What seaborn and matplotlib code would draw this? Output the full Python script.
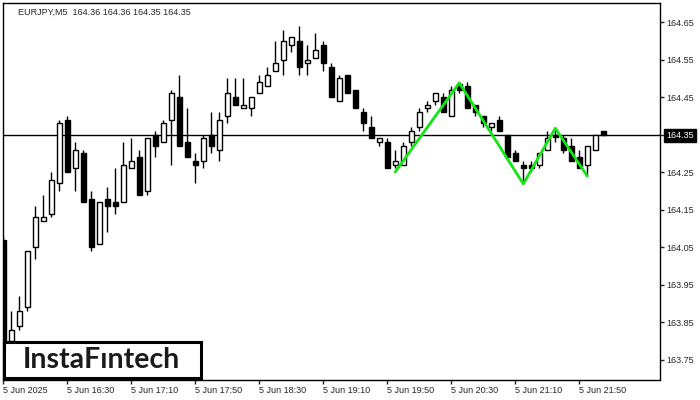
""" EURJPY M5 candles with the double top pattern drawn in green
"""

import matplotlib
matplotlib.use("Agg")
import matplotlib.pyplot as plt
from matplotlib.patches import Rectangle
import seaborn as sns
import pandas as pd

# candle prices, one entry per 5 minute bar from 5 Jun 15:50
opens = [164.07, 163.80, 163.84, 163.89, 164.05, 164.12, 164.14, 164.22, 164.39, 164.26,
         164.30, 164.18, 164.06, 164.18, 164.17, 164.17, 164.26, 164.29, 164.20, 164.35,
         164.33, 164.39, 164.45, 164.33, 164.28, 164.28, 164.35, 164.31, 164.40, 164.45,
         164.42, 164.42, 164.46, 164.48, 164.52, 164.55, 164.59, 164.60, 164.54, 164.555,
         164.59, 164.53, 164.44, 164.51, 164.47, 164.41, 164.37, 164.33, 164.33, 164.27,
         164.27, 164.33, 164.37, 164.42, 164.44, 164.45, 164.40, 164.485, 164.48, 164.43,
         164.40, 164.37, 164.39, 164.35, 164.30, 164.27, 164.27, 164.27, 164.31, 164.35,
         164.34, 164.32, 164.29, 164.27, 164.31, 164.36]
highs = [164.08, 163.88, 163.92, 164.04, 164.16, 164.19, 164.25, 164.39, 164.40, 164.33,
         164.31, 164.20, 164.17, 164.21, 164.26, 164.33, 164.34, 164.31, 164.34, 164.36,
         164.39, 164.47, 164.51, 164.42, 164.30, 164.35, 164.41, 164.41, 164.50, 164.50,
         164.50, 164.45, 164.51, 164.53, 164.60, 164.63, 164.61, 164.64, 164.59, 164.62,
         164.60, 164.54, 164.51, 164.51, 164.47, 164.42, 164.40, 164.34, 164.34, 164.31,
         164.33, 164.37, 164.42, 164.44, 164.46, 164.46, 164.48, 164.49, 164.49, 164.43,
         164.40, 164.38, 164.40, 164.35, 164.31, 164.28, 164.28, 164.30, 164.36, 164.37,
         164.35, 164.34, 164.31, 164.32, 164.35, 164.36]
lows = [163.78, 163.79, 163.83, 163.88, 164.02, 164.12, 164.13, 164.20, 164.25, 164.20,
        164.17, 164.04, 164.06, 164.09, 164.14, 164.17, 164.26, 164.19, 164.19, 164.29,
        164.33, 164.27, 164.32, 164.29, 164.22, 164.26, 164.30, 164.28, 164.38, 164.43,
        164.42, 164.40, 164.46, 164.48, 164.52, 164.51, 164.57, 164.51, 164.51, 164.555,
        164.52, 164.45, 164.44, 164.46, 164.42, 164.36, 164.34, 164.32, 164.26, 164.26,
        164.27, 164.32, 164.36, 164.41, 164.43, 164.41, 164.40, 164.46, 164.42, 164.40,
        164.37, 164.36, 164.36, 164.29, 164.28, 164.22, 164.25, 164.26, 164.31, 164.33,
        164.30, 164.28, 164.26, 164.24, 164.31, 164.35]
closes = [163.80, 163.83, 163.88, 164.04, 164.13, 164.13, 164.23, 164.38, 164.25, 164.31,
          164.17, 164.05, 164.17, 164.16, 164.16, 164.27, 164.28, 164.19, 164.34, 164.32,
          164.38, 164.46, 164.32, 164.29, 164.27, 164.34, 164.32, 164.39, 164.46, 164.43,
          164.43, 164.45, 164.49, 164.51, 164.54, 164.60, 164.61, 164.53, 164.55, 164.575,
          164.54, 164.45, 164.50, 164.46, 164.42, 164.38, 164.34, 164.34, 164.26, 164.28,
          164.32, 164.36, 164.41, 164.43, 164.46, 164.41, 164.47, 164.47, 164.42, 164.41,
          164.38, 164.38, 164.36, 164.29, 164.28, 164.26, 164.26, 164.30, 164.34, 164.345,
          164.31, 164.28, 164.26, 164.32, 164.35, 164.35]

# double top zigzag: bar number and price of each corner
pattern_bars = [49, 57, 65, 69, 73]
pattern_prices = [164.251, 164.488, 164.219, 164.367, 164.24]

last_price = 164.35
time_labels = ["5 Jun 2025", "5 Jun 16:30", "5 Jun 17:10", "5 Jun 17:50", "5 Jun 18:30",
               "5 Jun 19:10", "5 Jun 19:50", "5 Jun 20:30", "5 Jun 21:10", "5 Jun 21:50"]
price_ticks = [163.75, 163.85, 163.95, 164.05, 164.15, 164.25, 164.35, 164.45, 164.55, 164.65]

df = pd.DataFrame({"open": opens, "high": highs, "low": lows, "close": closes})
df["bar"] = range(len(df))
df["up"] = df["close"] >= df["open"]

sns.set_style("white")
plt.rcParams["font.family"] = ["Liberation Sans", "DejaVu Sans"]
plt.rcParams["axes.edgecolor"] = "black"
plt.rcParams["axes.linewidth"] = 1.0

fig = plt.figure(figsize=(7, 4), dpi=100)
ax = fig.add_axes([3 / 700, 1 - 379.5 / 400, 656.5 / 700, 376.5 / 400])

# wicks then bodies
ax.vlines(df["bar"], df["low"], df["high"], color="black", linewidth=1, zorder=2)
body_lo = df[["open", "close"]].min(axis=1)
body_h = (df["close"] - df["open"]).abs().clip(lower=0.0015)
ax.bar(df["bar"], body_h, bottom=body_lo, width=0.6,
       color=["white" if u else "black" for u in df["up"]],
       edgecolor="black", linewidth=1, zorder=3)

ax.axhline(last_price, color="black", linewidth=1, zorder=1)

sns.lineplot(x=pattern_bars, y=pattern_prices, color="#12e612", linewidth=2,
             ax=ax, zorder=4)

ax.set_xlim(-0.04, 82.03)
ax.set_ylim(163.698, 164.7007)

ax.set_xticks(list(range(0, 80, 8)))
ax.set_xticklabels(time_labels, fontsize=6.5, ha="left")
ax.yaxis.tick_right()
ax.set_yticks(price_ticks)
ax.set_yticklabels([f"{p:.2f}" for p in price_ticks], fontsize=6.5)
ax.tick_params(axis="x", bottom=True, direction="out", length=3, width=1, pad=2)
ax.tick_params(axis="y", right=True, left=False, direction="out", length=3, width=1, pad=2)
for lbl in ax.get_yticklabels():
    if lbl.get_text() == f"{last_price:.2f}":
        lbl.set_color("white")
        lbl.set_bbox(dict(facecolor="black", edgecolor="black", pad=1.5))
ax.set_xlabel("")
ax.set_ylabel("")

fig.text(18 / 700, 1 - 12 / 400, "EURJPY,M5  164.36 164.36 164.35 164.35",
         fontsize=6.5, va="center", ha="left")

# logo box bottom left
fig.patches.append(Rectangle((4 / 700, 1 - 377.5 / 400), 196.5 / 700, 35.5 / 400,
                             transform=fig.transFigure, facecolor="white",
                             edgecolor="black", linewidth=2.2, zorder=5))
fig.text(101.5 / 700, 1 - 359.5 / 400, "InstaF\u0131ntech", fontsize=20.5,
         family="Lato", fontweight="bold", ha="center", va="center",
         color="#1a1a1a", zorder=6)

fig.savefig("out.png", dpi=100)
